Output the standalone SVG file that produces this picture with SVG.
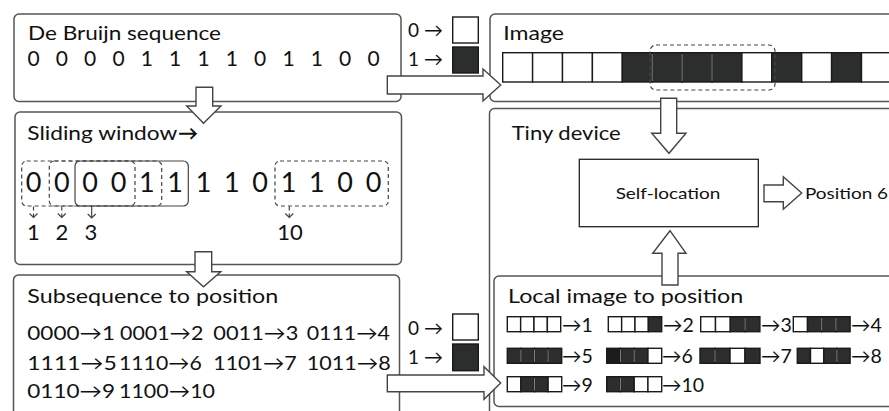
<svg xmlns="http://www.w3.org/2000/svg" width="889" height="411" viewBox="0 0 889 411">
  <style>
    text { font-family: Lato, "Open Sans", "DejaVu Sans", sans-serif; fill: #111; }
    .box { fill: #fff; stroke: #555; stroke-width: 1.5; }
    .inner { fill: #fff; stroke: #222; stroke-width: 1.3; }
    .arrow { fill: #fff; stroke: #444; stroke-width: 1.4; stroke-linejoin: miter; }
    .win { fill: none; stroke: #444; stroke-width: 1.2; }
    .dash { stroke-dasharray: 4 3; }
    .w { fill: #fff; stroke: #1a1a1a; stroke-width: 1.4; }
    .b { fill: #2b2e2d; stroke: #1a1a1a; stroke-width: 1.4; }
    .sep { stroke: #9a9a9a; stroke-width: 0.8; }
    .h { font-size: 20px; }
    .seq { font-size: 21px; }
    .leg { font-size: 19px; }
    .big { font-size: 27px; }
    .lab { font-size: 22px; }
    .map { font-size: 19.5px; }
    .sm { font-size: 16px; }
  </style>

  <!-- De Bruijn sequence -->
  <g id="debruijn">
    <rect class="box" x="14" y="14" width="387" height="87.5" rx="5"/>
    <text class="h" x="28" y="40" textLength="193" lengthAdjust="spacingAndGlyphs">De Bruijn sequence</text>
    <text class="seq" text-anchor="middle" y="66" x="33.5 61.8 90.2 118.5 146.8 175.2 203.5 231.8 260.2 288.5 316.8 345.2 373.5">0000111101100</text>
  </g>

  <!-- colour legend, top -->
  <g id="legend-top">
    <text class="leg" x="408" y="37">0 →</text>
    <text class="leg" x="408" y="66">1 →</text>
    <rect class="w" x="452.7" y="17" width="25.6" height="26"/>
    <rect class="b" x="452.7" y="47" width="25.6" height="26"/>
  </g>

  <!-- Image strip -->
  <g id="image">
    <rect class="box" x="490" y="14" width="420" height="87.5" rx="5"/>
    <text class="h" x="503.3" y="40" textLength="60.7" lengthAdjust="spacingAndGlyphs">Image</text>
    <rect class="w" x="502.7" y="52.7" width="29.9" height="29.3"/>
    <rect class="w" x="532.6" y="52.7" width="29.9" height="29.3"/>
    <rect class="w" x="562.5" y="52.7" width="29.9" height="29.3"/>
    <rect class="w" x="592.4" y="52.7" width="29.9" height="29.3"/>
    <rect class="b" x="622.3" y="52.7" width="29.9" height="29.3"/>
    <rect class="b" x="652.2" y="52.7" width="29.9" height="29.3"/>
    <rect class="b" x="682.1" y="52.7" width="29.9" height="29.3"/>
    <rect class="b" x="712" y="52.7" width="29.9" height="29.3"/>
    <rect class="w" x="741.9" y="52.7" width="29.9" height="29.3"/>
    <rect class="b" x="771.8" y="52.7" width="29.9" height="29.3"/>
    <rect class="w" x="801.7" y="52.7" width="29.9" height="29.3"/>
    <rect class="b" x="831.6" y="52.7" width="29.9" height="29.3"/>
    <rect class="w" x="861.5" y="52.7" width="29.9" height="29.3"/>
    <line class="sep" x1="652.2" y1="54" x2="652.2" y2="81"/>
    <line class="sep" x1="682.1" y1="54" x2="682.1" y2="81"/>
    <line class="sep" x1="712" y1="54" x2="712" y2="81"/>
    <rect class="win dash" x="650" y="45" width="125" height="45" rx="6"/>
  </g>

  <!-- Sliding window -->
  <g id="sliding-window">
    <rect class="box" x="15" y="112" width="386.5" height="152.5" rx="5"/>
    <text class="h" x="27.3" y="140" textLength="150" lengthAdjust="spacingAndGlyphs">Sliding window</text>
    <text class="h" x="178" y="140" font-weight="bold">→</text>
    <text class="big" text-anchor="middle" y="192" x="33.5 61.8 90.2 118.5 146.8 175.2 203.5 231.8 260.2 288.5 316.8 345.2 373.5">0000111101100</text>
    <rect class="win dash" x="21.7" y="161" width="113.3" height="45" rx="5"/>
    <rect class="win dash" x="49.3" y="161" width="112.4" height="45" rx="5"/>
    <rect class="win" x="75" y="161" width="113.3" height="45" rx="5"/>
    <rect class="win dash" x="275" y="161" width="113.3" height="45" rx="5"/>
    <g class="win">
      <path class="dash" d="M33.5 206.5V217.5 M61.8 206.5V217.5 M289.3 206.5V217.5"/>
      <path d="M29.5 213.5L33.5 217.5L37.5 213.5 M57.8 213.5L61.8 217.5L65.8 213.5 M285.3 213.5L289.3 217.5L293.3 213.5"/>
      <path d="M91.7 206.5V218 M87.7 214L91.7 218L95.7 214"/>
    </g>
    <text class="lab" text-anchor="middle" y="240" x="33.5 62 91">123</text>
    <text class="lab" text-anchor="middle" x="290" y="240">10</text>
  </g>

  <!-- Subsequence to position -->
  <g id="subsequence">
    <rect class="box" x="13.5" y="275" width="386" height="160" rx="5"/>
    <text class="h" x="27.3" y="303" textLength="251" lengthAdjust="spacingAndGlyphs">Subsequence to position</text>
    <g class="map">
      <text x="27.3" y="340" textLength="87.7" lengthAdjust="spacingAndGlyphs">0000→1</text>
      <text x="120" y="340" textLength="83.3" lengthAdjust="spacingAndGlyphs">0001→2</text>
      <text x="213.3" y="340" textLength="85" lengthAdjust="spacingAndGlyphs">0011→3</text>
      <text x="306.7" y="340" textLength="83.3" lengthAdjust="spacingAndGlyphs">0111→4</text>
      <text x="27.3" y="370" textLength="89.4" lengthAdjust="spacingAndGlyphs">1111→5</text>
      <text x="119" y="370" textLength="82.7" lengthAdjust="spacingAndGlyphs">1110→6</text>
      <text x="213.3" y="370" textLength="83.4" lengthAdjust="spacingAndGlyphs">1101→7</text>
      <text x="306.7" y="370" textLength="84" lengthAdjust="spacingAndGlyphs">1011→8</text>
      <text x="27.3" y="398" textLength="87.7" lengthAdjust="spacingAndGlyphs">0110→9</text>
      <text x="119" y="398" textLength="96" lengthAdjust="spacingAndGlyphs">1100→10</text>
    </g>
  </g>

  <!-- colour legend, bottom -->
  <g id="legend-bottom">
    <text class="leg" x="408" y="335">0 →</text>
    <text class="leg" x="408" y="364">1 →</text>
    <rect class="w" x="452.7" y="314" width="25.6" height="26"/>
    <rect class="b" x="452.7" y="344" width="25.6" height="26.7"/>
  </g>

  <!-- Tiny device -->
  <g id="tiny-device">
    <rect class="box" x="489.5" y="108.5" width="420" height="330" rx="5"/>
    <text class="h" x="511.7" y="140" textLength="109" lengthAdjust="spacingAndGlyphs">Tiny device</text>
  </g>

  <g id="self-location">
    <rect class="inner" x="579.3" y="159.3" width="179" height="67.4"/>
    <text class="sm" x="668" y="199" text-anchor="middle" textLength="104.7" lengthAdjust="spacingAndGlyphs">Self-location</text>
  </g>

  <g id="position">
    <text class="sm" x="805" y="199" textLength="83" lengthAdjust="spacingAndGlyphs">Position 6</text>
  </g>

  <!-- Local image to position -->
  <g id="local-image">
    <rect class="box" x="494" y="276" width="420" height="130.5" rx="5"/>
    <text class="h" x="508" y="303" textLength="235.3" lengthAdjust="spacingAndGlyphs">Local image to position</text>

    <!-- row 1 -->
    <rect class="w" x="507.3" y="316.7" width="13.35" height="15"/>
    <rect class="w" x="520.65" y="316.7" width="13.35" height="15"/>
    <rect class="w" x="534" y="316.7" width="13.35" height="15"/>
    <rect class="w" x="547.35" y="316.7" width="13.35" height="15"/>
    <rect class="w" x="608.3" y="316.7" width="13.35" height="15"/>
    <rect class="w" x="621.65" y="316.7" width="13.35" height="15"/>
    <rect class="w" x="635" y="316.7" width="13.35" height="15"/>
    <rect class="b" x="648.35" y="316.7" width="13.35" height="15"/>
    <rect class="w" x="700.7" y="316.7" width="14.8" height="15"/>
    <rect class="w" x="715.5" y="316.7" width="14.8" height="15"/>
    <rect class="b" x="730.3" y="316.7" width="14.8" height="15"/>
    <rect class="b" x="745.1" y="316.7" width="14.8" height="15"/>
    <rect class="w" x="793.3" y="316.7" width="14.2" height="15"/>
    <rect class="b" x="807.5" y="316.7" width="14.2" height="15"/>
    <rect class="b" x="821.7" y="316.7" width="14.2" height="15"/>
    <rect class="b" x="835.9" y="316.7" width="14.2" height="15"/>

    <!-- row 2 -->
    <rect class="b" x="507.3" y="348.3" width="13.6" height="15"/>
    <rect class="b" x="520.9" y="348.3" width="13.6" height="15"/>
    <rect class="b" x="534.5" y="348.3" width="13.6" height="15"/>
    <rect class="b" x="548.1" y="348.3" width="13.6" height="15"/>
    <rect class="b" x="606.7" y="348.3" width="13.75" height="15" style="fill:#1a1c1b"/>
    <rect class="b" x="620.45" y="348.3" width="13.75" height="15"/>
    <rect class="b" x="634.2" y="348.3" width="13.75" height="15"/>
    <rect class="w" x="647.95" y="348.3" width="13.75" height="15"/>
    <rect class="b" x="700" y="348.3" width="15" height="15"/>
    <rect class="b" x="715" y="348.3" width="15" height="15"/>
    <rect class="w" x="730" y="348.3" width="15" height="15"/>
    <rect class="b" x="745" y="348.3" width="15" height="15"/>
    <rect class="b" x="797.3" y="348.3" width="13.2" height="15"/>
    <rect class="w" x="810.5" y="348.3" width="13.2" height="15"/>
    <rect class="b" x="823.7" y="348.3" width="13.2" height="15"/>
    <rect class="b" x="836.9" y="348.3" width="13.2" height="15"/>

    <!-- row 3 -->
    <rect class="w" x="507.3" y="376.7" width="13.6" height="15"/>
    <rect class="b" x="520.9" y="376.7" width="13.6" height="15"/>
    <rect class="b" x="534.5" y="376.7" width="13.6" height="15"/>
    <rect class="w" x="548.1" y="376.7" width="13.6" height="15"/>
    <rect class="b" x="606.7" y="376.7" width="13.75" height="15"/>
    <rect class="b" x="620.45" y="376.7" width="13.75" height="15"/>
    <rect class="w" x="634.2" y="376.7" width="13.75" height="15"/>
    <rect class="w" x="647.95" y="376.7" width="13.75" height="15"/>

    <!-- light seams between neighbouring dark cells -->
    <g class="sep">
      <line x1="745.1" y1="318" x2="745.1" y2="330.5"/>
      <line x1="821.7" y1="318" x2="821.7" y2="330.5"/>
      <line x1="835.9" y1="318" x2="835.9" y2="330.5"/>
      <line x1="520.9" y1="349.6" x2="520.9" y2="362"/>
      <line x1="534.5" y1="349.6" x2="534.5" y2="362"/>
      <line x1="548.1" y1="349.6" x2="548.1" y2="362"/>
      <line x1="620.45" y1="349.6" x2="620.45" y2="362"/>
      <line x1="634.2" y1="349.6" x2="634.2" y2="362"/>
      <line x1="715" y1="349.6" x2="715" y2="362"/>
      <line x1="836.9" y1="349.6" x2="836.9" y2="362"/>
      <line x1="534.5" y1="378" x2="534.5" y2="390.5"/>
      <line x1="620.45" y1="378" x2="620.45" y2="390.5"/>
    </g>

    <g class="map">
      <text x="562" y="331.5">→1</text>
      <text x="663" y="331.5">→2</text>
      <text x="761" y="331.5">→3</text>
      <text x="851" y="331.5">→4</text>
      <text x="562" y="363">→5</text>
      <text x="662" y="363">→6</text>
      <text x="761" y="363">→7</text>
      <text x="851" y="363">→8</text>
      <text x="562" y="391.5">→9</text>
      <text x="662" y="391.5">→10</text>
    </g>
  </g>

  <!-- block-arrow connectors -->
  <g id="connectors">
    <polygon class="arrow" points="196,87.3 212.7,87.3 212.7,106 221,106 203.5,123.3 186.7,106 196,106"/>
    <polygon class="arrow" points="195,251.7 211.7,251.7 211.7,271.7 220.7,271.7 203.5,286.7 186.7,271.7 195,271.7"/>
    <polygon class="arrow" points="387.3,76 483,76 483,69 500.7,85 483,101 483,94 387.3,94"/>
    <polygon class="arrow" points="387.3,375 484,375 484,366.7 500.7,383 484,399.3 484,391.7 387.3,391.7"/>
    <polygon class="arrow" points="660.7,98.3 676.7,98.3 676.7,133.3 686,133.3 669,153.3 651.7,133.3 660.7,133.3"/>
    <polygon class="arrow" points="662,285 678,285 678,253.3 686,253.3 670,230.7 652.7,253.3 662,253.3"/>
    <polygon class="arrow" points="764,185 783.3,185 783.3,176.7 801.7,193 783.3,209.3 783.3,201.7 764,201.7"/>
  </g>
</svg>
